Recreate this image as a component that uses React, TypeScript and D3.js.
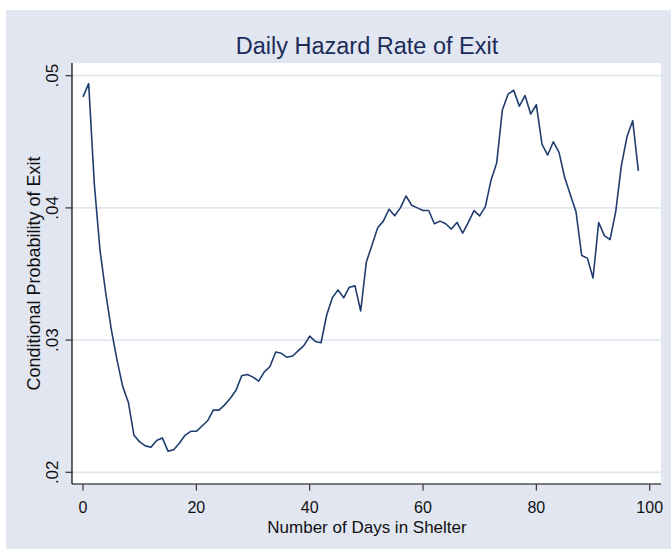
import * as d3 from "d3";

// Conditional probability of exit, one value per day in shelter (day 0 first)
const hazard = [
  0.0484, 0.0494, 0.0418, 0.0368, 0.0336, 0.0308, 0.0285, 0.0265, 0.0253, 0.0228,
  0.0223, 0.022, 0.0219, 0.0224, 0.0226, 0.0216, 0.0217, 0.0222, 0.0228, 0.0231,
  0.0231, 0.0235, 0.0239, 0.0247, 0.0247, 0.0251, 0.0256, 0.0262, 0.0273, 0.0274,
  0.0272, 0.0269, 0.0276, 0.028, 0.0291, 0.029, 0.0287, 0.0288, 0.0292, 0.0296,
  0.0303, 0.0299, 0.0298, 0.0319, 0.0332, 0.0338, 0.0332, 0.034, 0.0341, 0.0322,
  0.0359, 0.0372, 0.0385, 0.039, 0.0399, 0.0394, 0.04, 0.0409, 0.0402, 0.04,
  0.0398, 0.0398, 0.0388, 0.039, 0.0388, 0.0384, 0.0389, 0.0381, 0.0389, 0.0398,
  0.0394, 0.0401, 0.0421, 0.0434, 0.0474, 0.0486, 0.0489, 0.0477, 0.0485, 0.0471,
  0.0478, 0.0448, 0.044, 0.045, 0.0442, 0.0423, 0.041, 0.0397, 0.0364, 0.0362,
  0.0347, 0.0389, 0.0379, 0.0376, 0.0397, 0.0432, 0.0454, 0.0466, 0.0428,
];
const days = hazard.map((_, i) => i);

const xTicks = [0, 20, 40, 60, 80, 100];
const yTicks = [0.02, 0.03, 0.04, 0.05];
const yTickLabels = [".02", ".03", ".04", ".05"];

const W = 671;
const H = 551;
const plot = { left: 72, top: 63, right: 661, bottom: 484 };
const font = "'Liberation Sans', Arial, sans-serif";

export default function App() {
  const x = d3.scaleLinear().domain([0, 100]).range([83, 649.7]);
  const y = d3.scaleLinear().domain([0.02, 0.05]).range([472.3, 75.7]);

  const line = d3
    .line<number>()
    .x((_, i) => x(days[i]))
    .y((d) => y(d));

  return (
    <svg
      width={W}
      height={H}
      style={{ position: "absolute", left: 0, top: 0, background: "#fff" }}
      fontFamily={font}
    >
      {/* graph region */}
      <rect x={6} y={10} width={W - 6} height={539} fill="#e1e6f1" />
      {/* plot region */}
      <rect
        x={plot.left}
        y={plot.top}
        width={plot.right - plot.left}
        height={plot.bottom - plot.top}
        fill="#fff"
      />

      {/* grid */}
      {yTicks.map((t) => (
        <line
          key={"g" + t}
          x1={plot.left}
          x2={plot.right}
          y1={y(t)}
          y2={y(t)}
          stroke="#e1e6f0"
          strokeWidth={1.7}
        />
      ))}

      <text x={367} y={54} textAnchor="middle" fontSize={23.5} fill="#1c2c58">
        Daily Hazard Rate of Exit
      </text>

      <path
        d={line(hazard) || ""}
        fill="none"
        stroke="#213d6f"
        strokeWidth={1.6}
        strokeLinejoin="round"
      />

      {/* axes */}
      <line x1={plot.left} x2={plot.left} y1={plot.top} y2={plot.bottom} stroke="#000" strokeWidth={1.2} />
      <line x1={plot.left} x2={plot.right} y1={plot.bottom} y2={plot.bottom} stroke="#000" strokeWidth={1.2} />

      {yTicks.map((t, i) => (
        <g key={"y" + t}>
          <line x1={65.5} x2={plot.left} y1={y(t)} y2={y(t)} stroke="#333" strokeWidth={1.2} />
          <text
            transform={`translate(58,${y(t)}) rotate(-90)`}
            textAnchor="middle"
            fontSize={17}
            fill="#111"
          >
            {yTickLabels[i]}
          </text>
        </g>
      ))}

      {xTicks.map((t) => (
        <g key={"x" + t}>
          <line x1={x(t)} x2={x(t)} y1={plot.bottom} y2={plot.bottom + 6.5} stroke="#333" strokeWidth={1.2} />
          <text x={x(t)} y={513} textAnchor="middle" fontSize={16} fill="#111">
            {t}
          </text>
        </g>
      ))}

      <text x={367} y={533} textAnchor="middle" fontSize={17} fill="#111">
        Number of Days in Shelter
      </text>
      <text
        transform={`translate(40,${(plot.top + plot.bottom) / 2}) rotate(-90)`}
        textAnchor="middle"
        fontSize={18}
        fill="#111"
      >
        Conditional Probability of Exit
      </text>
    </svg>
  );
}
